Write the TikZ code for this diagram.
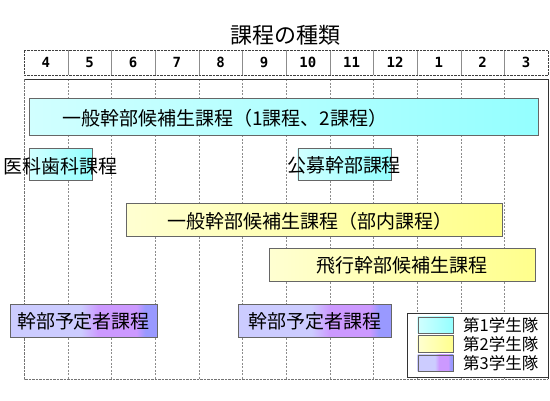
\documentclass[tikz,border=0pt]{standalone}
\usepackage{fontspec}
\newfontfamily\jpfont{Noto Sans CJK JP}
\newfontfamily\numfont{DejaVu Sans Mono}
\usetikzlibrary{positioning}
\definecolor{lavL}{HTML}{CCCCFF}
\definecolor{lavM}{HTML}{CC99FF}
\definecolor{lavR}{HTML}{9999FF}
\pgfdeclarehorizontalshading{lavgrad}{100bp}{color(0bp)=(lavL); color(25bp)=(lavL);
  color(49bp)=(lavL); color(55bp)=(lavM); color(68bp)=(lavM); color(71bp)=(lavR);
  color(100bp)=(lavR)}
\tikzset{
  ttl/.style={font=\jpfont\fontsize{22}{22}\selectfont, inner sep=0pt},
  hdrcell/.style={font=\numfont\bfseries\fontsize{14}{14}\selectfont, inner sep=0pt},
  bar/.style={rectangle, draw=black!60, inner sep=0pt},
  first/.style={bar, left color=cyan!18, right color=cyan!42},
  second/.style={bar, left color=yellow!18, right color=yellow!45},
  third/.style={bar, shade, shading=lavgrad},
  lbl/.style={font=\jpfont\fontsize{19}{19}\selectfont, inner sep=0pt},
  legtxt/.style={font=\jpfont\fontsize{16.5}{16.5}\selectfont, inner sep=0pt, anchor=west},
  vline/.style={dash pattern=on 2pt off 1.5pt, black!45, very thin},
  hsep/.style={black!45, very thin},
}

\begin{document}
\begin{tikzpicture}[x=1pt, y=-1pt]
  \useasboundingbox (0,0) rectangle (550,400);
  \def\CW{43.667}
  \node[ttl] (title) at (285,35) {課程の種類};
  % month header and grid
  \foreach \m [count=\i from 0] in {4,5,6,7,8,9,10,11,12,1,2,3}
    \node[hdrcell] (m\i) at ({24+\CW*\i+\CW/2},62.5) {\m};
  \foreach \i in {1,...,11} {
    \draw[hsep] ({24+\CW*\i},50) -- ({24+\CW*\i},75);
    \draw[vline] ({24+\CW*\i},79) -- ({24+\CW*\i},379);
  }
  \draw[dash pattern=on 2.5pt off 1pt, black!75] (24,50) rectangle (548,75);
  \draw[black!80] (24,79) -- (548,79) -- (548,379);
  \draw[dash pattern=on 2.5pt off 1pt, black!55] (24,79) -- (24,379) -- (548,379);

  % courses
  \node[first, minimum width=508.7, minimum height=36.7] (ippan) at (283.65,116.65) {};
  \node[lbl, anchor=west] (ippanL) at (62,118.5) {一般幹部候補生課程（1課程、2課程）};
  \node[first, minimum width=63, minimum height=32.2] (ika) at (60.8,164.4) {};
  \node[lbl] (ikaL) at (60.8,166.5) {医科歯科課程};
  \node[first, minimum width=93, minimum height=32.2] (kobo) at (344.2,164.4) {};
  \node[lbl] (koboL) at (344,165.5) {公募幹部課程};
  \node[second, minimum width=376, minimum height=33.2] (bunai) at (314,219.9) {};
  \node[lbl] (bunaiL) at (310,221) {一般幹部候補生課程（部内課程）};
  \node[second, minimum width=265.7, minimum height=32.7] (hiko) at (402.15,264.35) {};
  \node[lbl] (hikoL) at (402,265) {飛行幹部候補生課程};
  \node[third, minimum width=146.5, minimum height=33] (yotei1) at (83.75,320.5) {};
  \node[lbl] (yotei1L) at (83.5,321.5) {幹部予定者課程};
  \node[third, minimum width=153, minimum height=33] (yotei2) at (314.5,320.5) {};
  \node[lbl] (yotei2L) at (314.5,321.5) {幹部予定者課程};

  % legend
  \node[rectangle, draw=black!80, fill=white, minimum width=141, minimum height=64.3,
        inner sep=0pt] (legend) at (477.5,344.85) {};
  \node[first, minimum width=35.6, minimum height=16.6] (sw1) at (435.5,325) {};
  \node[second, minimum width=35.6, minimum height=16.6] (sw2) at (435.5,343.7) {};
  \node[third, minimum width=35.6, minimum height=16.6] (sw3) at (435.5,363) {};
  \node[legtxt] (lg1) at (463,325) {第1学生隊};
  \node[legtxt] (lg2) at (463,343.7) {第2学生隊};
  \node[legtxt] (lg3) at (463,363) {第3学生隊};
\end{tikzpicture}
\end{document}
